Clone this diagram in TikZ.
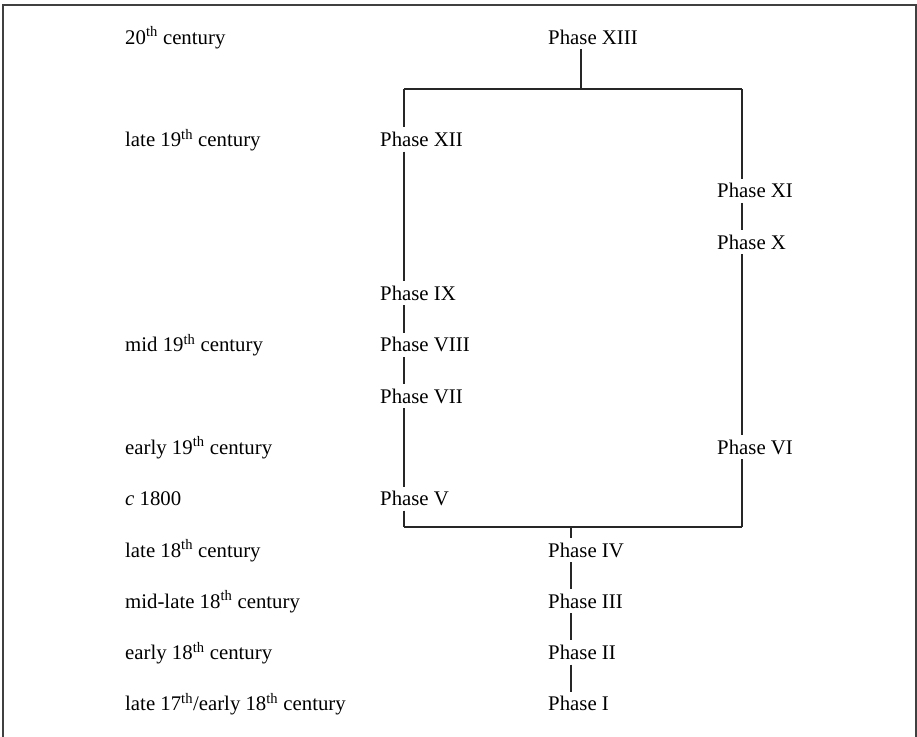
\documentclass[tikz,border=0pt]{standalone}
\usepackage{fontspec}
\setmainfont{Liberation Serif}
\tikzset{
  lbl/.style={anchor=base west, inner xsep=0pt, inner ysep=4.5pt, font=\fontsize{20.8}{24}\selectfont},
  phase/.style={anchor=base west, inner xsep=0pt, inner ysep=4.5pt, font=\fontsize{20.8}{24}\selectfont},
  link/.style={line width=1.7pt, black!85},
}
\newcommand{\sth}{\textsuperscript{th}}
\begin{document}
\begin{tikzpicture}[x=1pt,y=-1pt]
\useasboundingbox (0,0) rectangle (917,736);
% frame
\draw[line width=2pt, black!75] (3,740) -- (3,5) -- (916,5) -- (916,740);
% date labels
\def\xl{125}
\node[lbl] (d0)  at (\xl,44)    {20\sth\ century};
\node[lbl] (d2)  at (\xl,146.6) {late 19\sth\ century};
\node[lbl] (d6)  at (\xl,351.8) {mid 19\sth\ century};
\node[lbl] (d8)  at (\xl,454.4) {early 19\sth\ century};
\node[lbl] (d9)  at (\xl,505.7) {\textit{c} 1800};
\node[lbl] (d10) at (\xl,557)   {late 18\sth\ century};
\node[lbl] (d11) at (\xl,608.3) {mid-late 18\sth\ century};
\node[lbl] (d12) at (\xl,659.6) {early 18\sth\ century};
\node[lbl] (d13) at (\xl,710.9) {late 17\sth/early 18\sth\ century};
% phases
\node[phase] (p13) at (548,44)    {Phase XIII};
\node[phase] (p12) at (380,146.6) {Phase XII};
\node[phase] (p11) at (717,197.9) {Phase XI};
\node[phase] (p10) at (717,249.2) {Phase X};
\node[phase] (p9)  at (380,300.5) {Phase IX};
\node[phase] (p8)  at (380,351.8) {Phase VIII};
\node[phase] (p7)  at (380,403.1) {Phase VII};
\node[phase] (p6)  at (717,454.4) {Phase VI};
\node[phase] (p5)  at (380,505.7) {Phase V};
\node[phase] (p4)  at (548,557)   {Phase IV};
\node[phase] (p3)  at (548,608.3) {Phase III};
\node[phase] (p2)  at (548,659.6) {Phase II};
\node[phase] (p1)  at (548,710.9) {Phase I};
% corner coordinates
\coordinate (tl) at (404,89);
\coordinate (tr) at (742,89);
\coordinate (tm) at (581,89);
\coordinate (bl) at (404,527);
\coordinate (br) at (742,527);
\coordinate (bm) at (571,527);
% connectors
\draw[link] (p13.south -| tm) -- (tm);
\draw[link] (tl) -- (tr);
\draw[link] (tl) -- (p12.north -| tl);
\draw[link] (p12.south -| tl) -- (p9.north -| tl);
\draw[link] (p9.south -| tl) -- (p8.north -| tl);
\draw[link] (p8.south -| tl) -- (p7.north -| tl);
\draw[link] (p7.south -| tl) -- (p5.north -| tl);
\draw[link] (p5.south -| tl) -- (bl);
\draw[link] (tr) -- (p11.north -| tr);
\draw[link] (p11.south -| tr) -- (p10.north -| tr);
\draw[link] (p10.south -| tr) -- (p6.north -| tr);
\draw[link] (p6.south -| tr) -- (br);
\draw[link] (bl) -- (br);
\draw[link] (bm) -- (p4.north -| bm);
\draw[link] (p4.south -| bm) -- (p3.north -| bm);
\draw[link] (p3.south -| bm) -- (p2.north -| bm);
\draw[link] (p2.south -| bm) -- (p1.north -| bm);
\end{tikzpicture}
\end{document}
